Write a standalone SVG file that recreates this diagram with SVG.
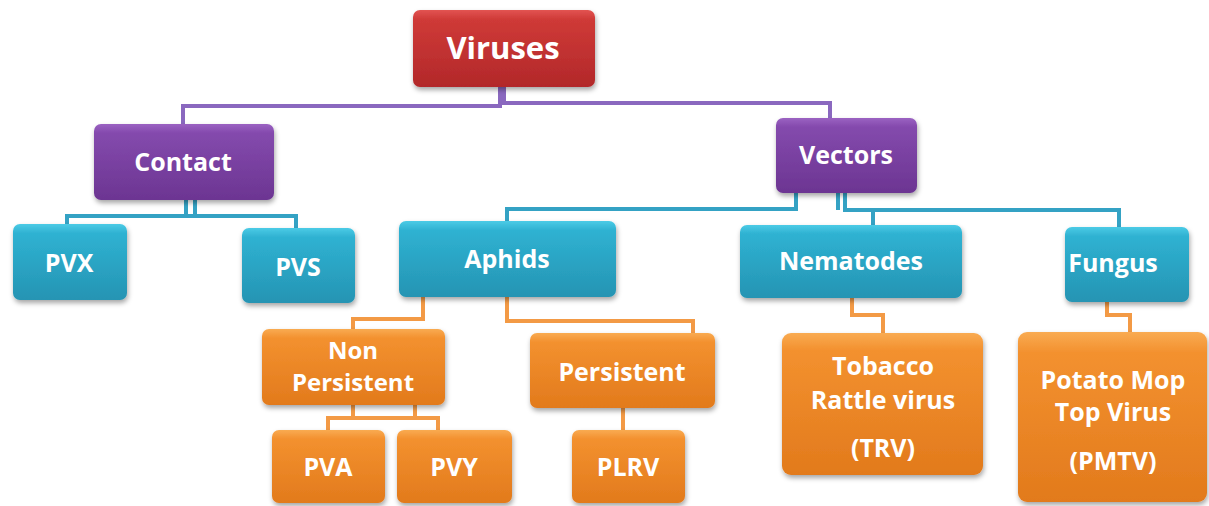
<svg xmlns="http://www.w3.org/2000/svg" width="1209" height="506" viewBox="0 0 1209 506">
<defs>
<linearGradient id="gRed" x1="0" y1="0" x2="0" y2="1"><stop offset="0" stop-color="#e25452"/><stop offset="0.12" stop-color="#cf3a37"/><stop offset="1" stop-color="#b2282a"/></linearGradient>
<linearGradient id="gPur" x1="0" y1="0" x2="0" y2="1"><stop offset="0" stop-color="#9b62c2"/><stop offset="0.12" stop-color="#844aad"/><stop offset="1" stop-color="#6c3592"/></linearGradient>
<linearGradient id="gTeal" x1="0" y1="0" x2="0" y2="1"><stop offset="0" stop-color="#4ccbe6"/><stop offset="0.12" stop-color="#2fb2d2"/><stop offset="1" stop-color="#2594b3"/></linearGradient>
<linearGradient id="gOr" x1="0" y1="0" x2="0" y2="1"><stop offset="0" stop-color="#f9ab52"/><stop offset="0.12" stop-color="#f3912f"/><stop offset="1" stop-color="#e27a1c"/></linearGradient>
<filter id="sh" x="-10%" y="-10%" width="120%" height="130%"><feDropShadow dx="1" dy="3" stdDeviation="2.5" flood-color="#000" flood-opacity="0.35"/></filter>
</defs>
<style>
.box{filter:url(#sh)}
.red{fill:url(#gRed)}
.pur{fill:url(#gPur)}
.teal{fill:url(#gTeal)}
.or{fill:url(#gOr)}
text{font-family:"Open Sans","Liberation Sans",sans-serif;font-weight:bold;fill:#fff;text-anchor:middle;font-size:25px}
text.big{font-size:31px}
text.sm{font-size:24px}
.c{fill:none;stroke-width:4}
.cp{stroke:#8a68bf}
.ct{stroke:#34a2c4}
.co{stroke:#f39a45}
</style>
<g id="connectors">
<path class="c cp" d="M500 87 V106 H183 V125"/>
<path class="c cp" d="M504 87 V103 H830 V118"/>
<path class="c ct" d="M186 200 V216 M195 200 V216 M67 224 V216 H296 V228"/>
<path class="c ct" d="M796 193 V209 H507 V221"/>
<path class="c ct" d="M838 193 V210 M845 193 V210 H1119 V227 M873 210 V225"/>
<path class="c co" d="M423 297 V319 H353 V329"/>
<path class="c co" d="M507 297 V321 H693 V333"/>
<path class="c co" d="M353 405 V418 M415 405 V418 M328 430 V418 H438 V430"/>
<path class="c co" d="M623 408 V430"/>
<path class="c co" d="M852 298 V315 H883 V333"/>
<path class="c co" d="M1107 302 V315 H1130 V332"/>
</g>
<g id="viruses"><rect class="box red" x="413" y="10" width="182" height="77" rx="7"/><text class="big" x="503" y="59">Viruses</text></g>
<g id="contact"><rect class="box pur" x="94" y="124" width="180" height="76" rx="7"/><text x="183" y="171">Contact</text></g>
<g id="vectors"><rect class="box pur" x="776" y="118" width="141" height="75" rx="7"/><text x="846" y="164">Vectors</text></g>
<g id="pvx"><rect class="box teal" x="13" y="224" width="114" height="76" rx="7"/><text x="69" y="272">PVX</text></g>
<g id="pvs"><rect class="box teal" x="242" y="228" width="113" height="75" rx="7"/><text x="298" y="276">PVS</text></g>
<g id="aphids"><rect class="box teal" x="399" y="221" width="217" height="76" rx="7"/><text x="507" y="268">Aphids</text></g>
<g id="nematodes"><rect class="box teal" x="740" y="225" width="222" height="73" rx="7"/><text x="851" y="270">Nematodes</text></g>
<g id="fungus"><rect class="box teal" x="1065" y="227" width="124" height="75" rx="7"/><text x="1113" y="272">Fungus</text></g>
<g id="nonpersistent"><rect class="box or" x="262" y="329" width="183" height="76" rx="7"/><text class="sm" x="353" y="359">Non</text><text class="sm" x="353" y="391">Persistent</text></g>
<g id="persistent"><rect class="box or" x="530" y="333" width="185" height="75" rx="7"/><text x="622" y="381">Persistent</text></g>
<g id="pva"><rect class="box or" x="272" y="430" width="113" height="73" rx="7"/><text x="328" y="476">PVA</text></g>
<g id="pvy"><rect class="box or" x="397" y="430" width="115" height="73" rx="7"/><text x="454" y="476">PVY</text></g>
<g id="plrv"><rect class="box or" x="572" y="430" width="113" height="73" rx="7"/><text x="628" y="476">PLRV</text></g>
<g id="trv"><rect class="box or" x="782" y="333" width="201" height="142" rx="9"/><text x="883" y="375">Tobacco</text><text x="883" y="409">Rattle virus</text><text x="883" y="457">(TRV)</text></g>
<g id="pmtv"><rect class="box or" x="1018" y="332" width="189" height="170" rx="9"/><text x="1113" y="389">Potato Mop</text><text x="1113" y="421">Top Virus</text><text x="1113" y="470">(PMTV)</text></g>
</svg>
